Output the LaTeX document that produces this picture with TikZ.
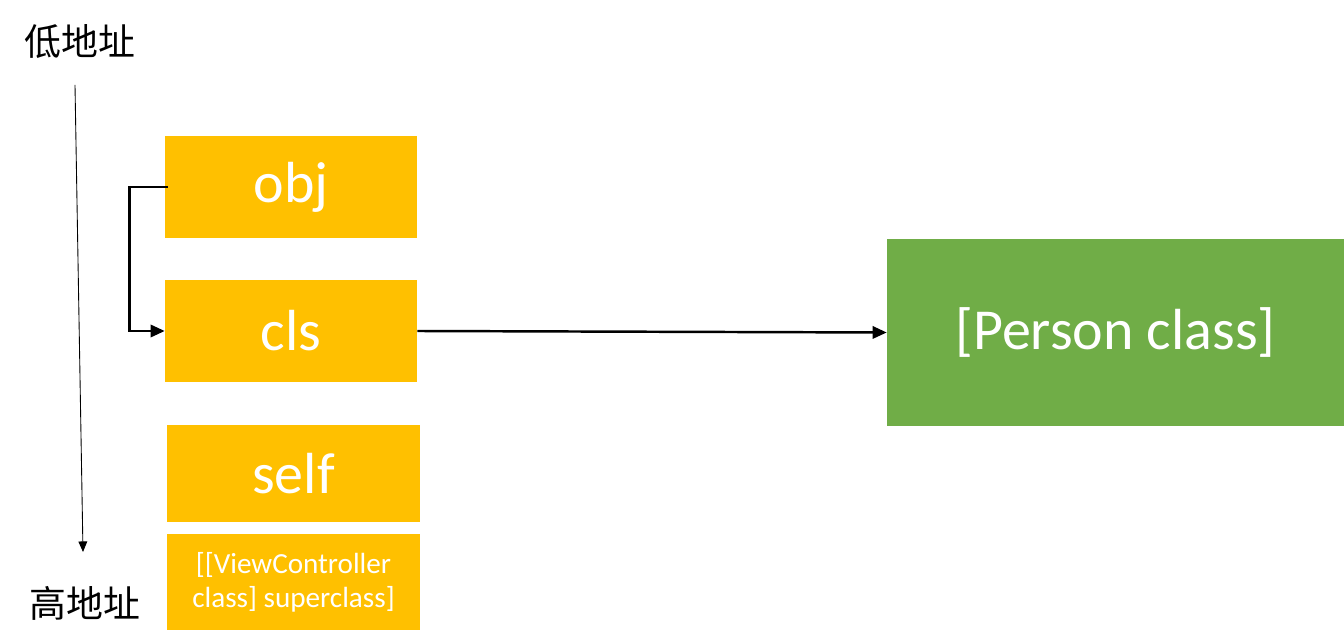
\documentclass[tikz,border=0pt]{standalone}
\usepackage{fontspec}
\setmainfont{Carlito}
\newfontfamily\cjk{Noto Sans CJK SC}
\usepackage{tikz}
\usetikzlibrary{arrows.meta,positioning}

\definecolor{slotyellow}{HTML}{FFC000}
\definecolor{classgreen}{HTML}{70AD47}

\begin{document}
\begin{tikzpicture}[
    x=0.02cm, y=-0.02cm,
    slot/.style={fill=slotyellow, text=white, align=center, minimum width=5.04cm, minimum height=2.04cm, font=\fontsize{33}{40}\selectfont},
    smallslot/.style={slot, minimum height=1.92cm, font=\fontsize{16.6}{19.5}\selectfont},
    klass/.style={fill=classgreen, text=white, align=center, minimum width=9.14cm, minimum height=3.74cm, font=\fontsize{33}{40}\selectfont},
    addr/.style={align=center, font=\cjk\fontsize{21}{24}\selectfont},
    link/.style={-{Triangle[length=8pt,width=7pt]}, line width=1.4pt},
    axis/.style={-{Triangle[length=6pt,width=5pt]}, line width=0.5pt}
]
    \useasboundingbox (0,0) rectangle (1344,644);

    \node[addr] (low) at (80,42) {低地址};
    \node[addr] (high) at (85,603) {高地址};
    \coordinate (top) at (75,85);
    \coordinate (bottom) at (83,552);
    \draw[axis] (top) -- (bottom);

    \node[slot] (obj) at (291,187) {obj};
    \node[slot] (cls) at (291,331) {cls};
    \node[slot, minimum width=5.06cm, minimum height=1.94cm] (self) at (293.5,473.5) {self};
    \node[smallslot, minimum width=5.06cm] (super) at (293.5,582) {[[ViewController\\class] superclass]};

    \node[klass] (person) at (1115.5,332.5) {[Person class]};

    \draw[link] ([xshift=0.06cm]obj.west) -- ++(-38,0) |- (cls.west);
    \draw[link] (cls.east) -- (person.west);
\end{tikzpicture}
\end{document}
